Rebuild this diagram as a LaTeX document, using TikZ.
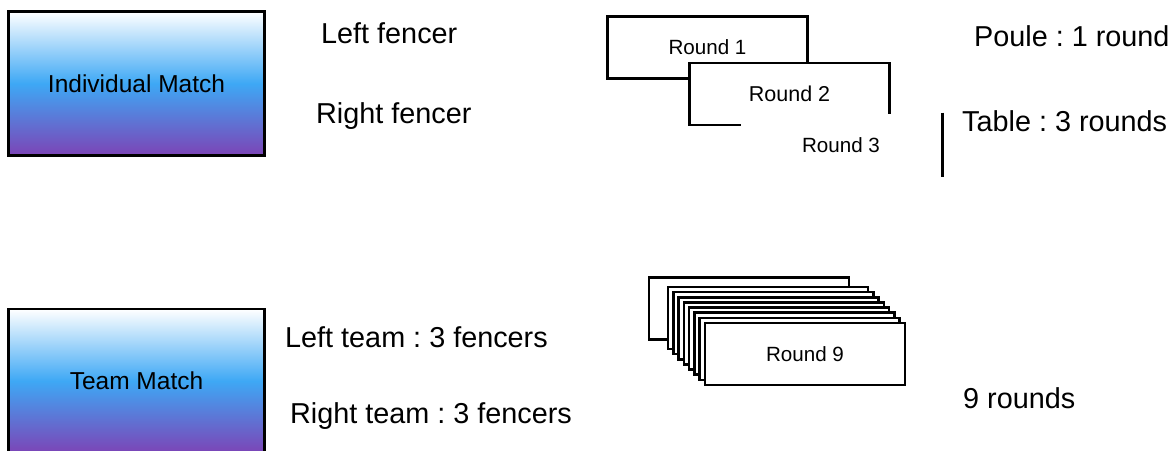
\documentclass[tikz,border=0pt]{standalone}
\usepackage{fontspec}
\setmainfont{Liberation Sans}
\frenchspacing
\definecolor{gblue}{RGB}{62,168,245}
\definecolor{gpurple}{RGB}{124,68,182}
\begin{document}
\begin{tikzpicture}[x=1pt,y=-1pt,
  matchbox/.style={draw=black,line width=2.6pt,minimum width=256pt,minimum height=144pt,inner sep=0pt,
    top color=white,bottom color=gpurple,middle color=gblue,font=\fontsize{24.5}{28}\selectfont},
  roundbox/.style={draw=black,fill=white,line width=2.6pt,minimum width=200pt,minimum height=62pt,inner sep=0pt,
    font=\fontsize{20.6}{24}\selectfont},
  label/.style={anchor=base west,inner sep=0pt,font=\fontsize{28.8}{32}\selectfont}]
\useasboundingbox[fill=white] (0,0) rectangle (1172,450);

% left boxes
\node[matchbox] (ind) at (136.5,83.5) {Individual Match};
\node[matchbox] (team) at (136.5,381) {Team Match};

% texts
\node[label] (lf) at (321,43) {Left fencer};
\node[label] (rf) at (316,123) {Right fencer};
\node[label] (poule) at (974,46) {Poule : 1 round};
\node[label] (table) at (962,131) {Table : 3 rounds};
\node[label] (lt) at (285,347) {Left team : 3 fencers};
\node[label] (rt) at (290,423) {Right team : 3 fencers};
\node[label] (nine) at (963,408) {9 rounds};

% individual rounds
\node[roundbox] (r1) at (707.5,47.5) {Round 1};
\node[roundbox,font=\fontsize{21.5}{24}\selectfont] (r2) at (789.5,94) {Round 2};
\node[roundbox,draw=none] (r3) at (841,145) {Round 3};
\draw[line width=2.6pt] (r3.north east) -- (r3.south east);

% team rounds stack
\node[roundbox] (s1) at (749,308.5) {};
\foreach \k in {2,...,8}{
  \node[roundbox] (s\k) at ({768+(\k-2)*37/7},{318+(\k-2)*36/7}) {};
}
\node[roundbox] (s9) at (805,354) {Round 9};
\end{tikzpicture}
\end{document}
